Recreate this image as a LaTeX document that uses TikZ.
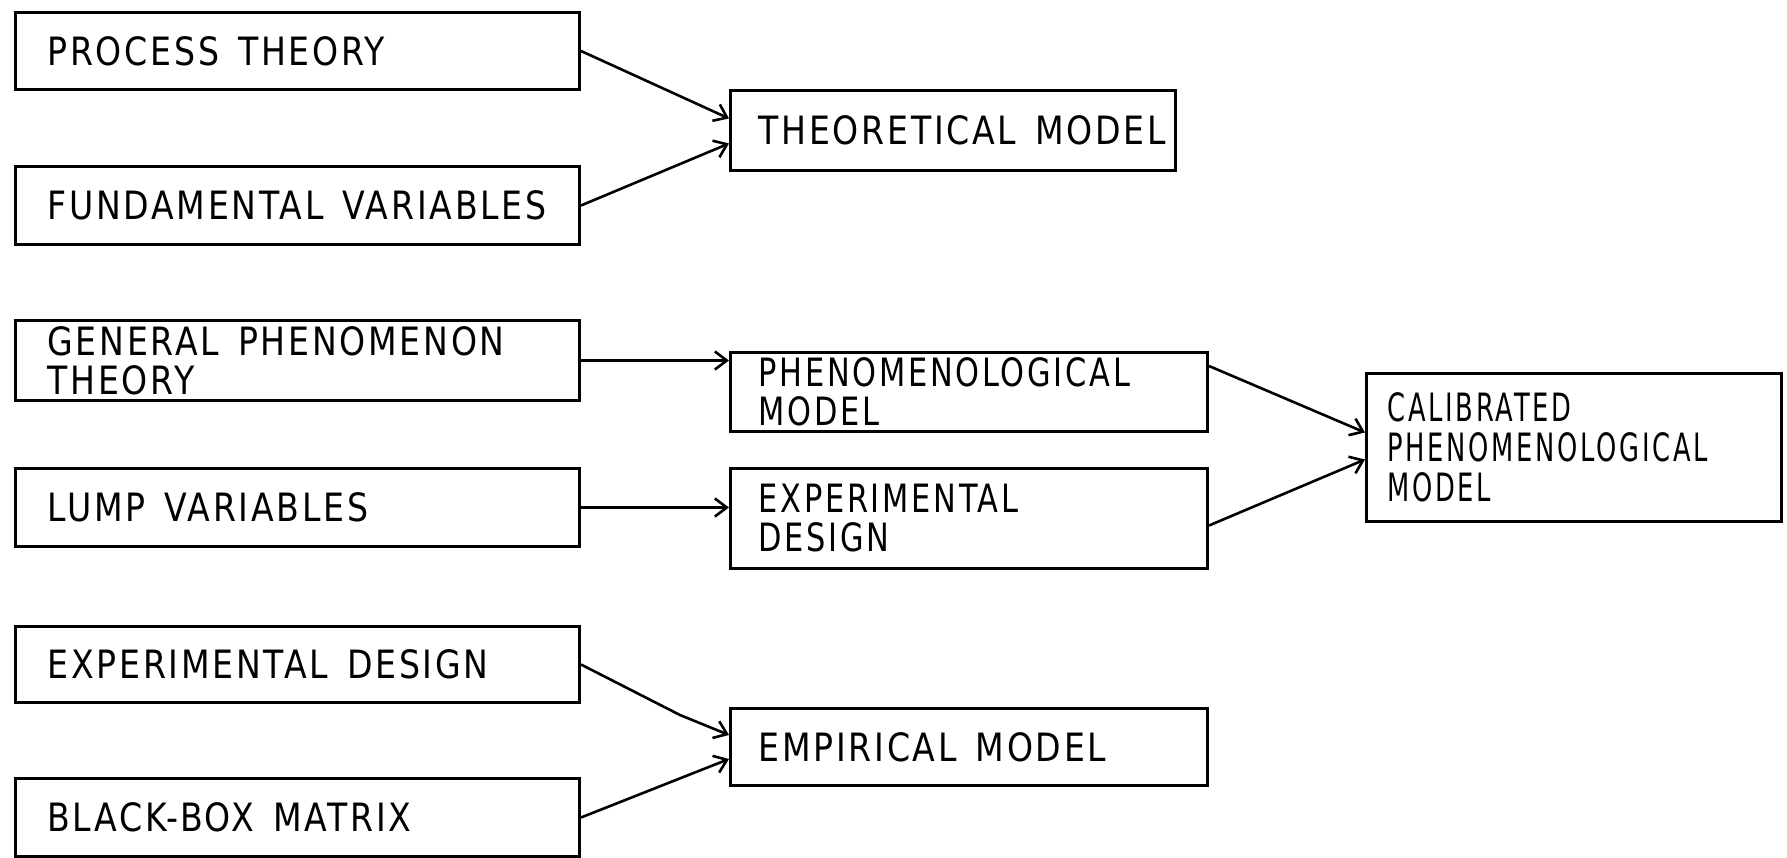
\documentclass[tikz,border=0pt]{standalone}
\usepackage{fontspec}
\setmainfont{DejaVu Sans}[FakeStretch=0.85, LetterSpace=7]
\newfontfamily\midfont{DejaVu Sans}[FakeStretch=0.78, LetterSpace=7]
\newfontfamily\narrowfont{DejaVu Sans}[FakeStretch=0.66, LetterSpace=7]
\usetikzlibrary{arrows.meta}
\begin{document}
\begin{tikzpicture}[x=1pt,y=-1pt,
  box/.style={draw, line width=3pt, rectangle, anchor=north west, inner ysep=0pt,
    align=left, font=\fontsize{39}{39}\selectfont,
    execute at begin node={\spaceskip=19pt\relax\hyphenpenalty=10000\relax\exhyphenpenalty=10000\relax}},
  lbox/.style={box, minimum width=564pt, text width=500pt, inner xsep=32pt},
  mbox/.style={box, minimum width=477pt, text width=421pt, inner xsep=28pt},
  nbox/.style={mbox, font=\fontsize{39}{39}\midfont},
  tbox/.style={box, minimum width=445pt, text width=389pt, inner xsep=28pt},
  cbox/.style={box, minimum width=415pt, text width=373pt, inner xsep=21pt,
    font=\fontsize{39}{40}\narrowfont},
  conn/.style={line width=2.6pt, -{Straight Barb[length=12pt,width=18pt]}}
]
\fill[white] (0,0) rectangle (1787,858);
\useasboundingbox (0,0) rectangle (1787,858);

\node[lbox, minimum height=77pt] (pt) at (14,11) {PROCESS~THEORY};
\node[lbox, minimum height=78pt] (fv) at (14,165) {FUNDAMENTAL~VARIABLES};
\node[tbox, minimum height=80pt] (tm) at (729,89) {THEORETICAL~MODEL};

\node[lbox, minimum height=80pt] (gp) at (14,319) {GENERAL~PHENOMENON\\THEORY};
\node[nbox, minimum height=79pt] (pm) at (729,351) {PHENOMENOLOGICAL\\MODEL};
\node[lbox, minimum height=78pt] (lv) at (14,467) {LUMP~VARIABLES};
\node[nbox, minimum height=100pt] (ed) at (729,467) {EXPERIMENTAL\\DESIGN};
\node[cbox, minimum height=148pt] (cp) at (1365,372) {CALIBRATED\\PHENOMENOLOGICAL\\MODEL};

\node[lbox, minimum height=76pt] (ed2) at (14,625) {EXPERIMENTAL~DESIGN};
\node[mbox, minimum height=77pt] (em) at (729,707) {EMPIRICAL~MODEL};
\node[lbox, minimum height=78pt] (bb) at (14,777) {BLACK-BOX~MATRIX};

\coordinate (kink) at (680,715);

\draw[conn] (pt.east) -- ([yshift=12pt]tm.west);
\draw[conn] (fv.east) -- ([yshift=-13pt]tm.west);
\draw[conn] (gp.east) -- (gp.east -| pm.west);
\draw[conn] (lv.east) -- (lv.east -| ed.west);
\draw[conn] ([yshift=26pt]pm.east) -- ([yshift=15pt]cp.west);
\draw[conn] ([yshift=-7pt]ed.east) -- ([yshift=-12pt]cp.west);
\draw[conn] (ed2.east) -- (kink) -- ([yshift=12pt]em.west);
\draw[conn] (bb.east) -- ([yshift=-12pt]em.west);
\end{tikzpicture}
\end{document}
